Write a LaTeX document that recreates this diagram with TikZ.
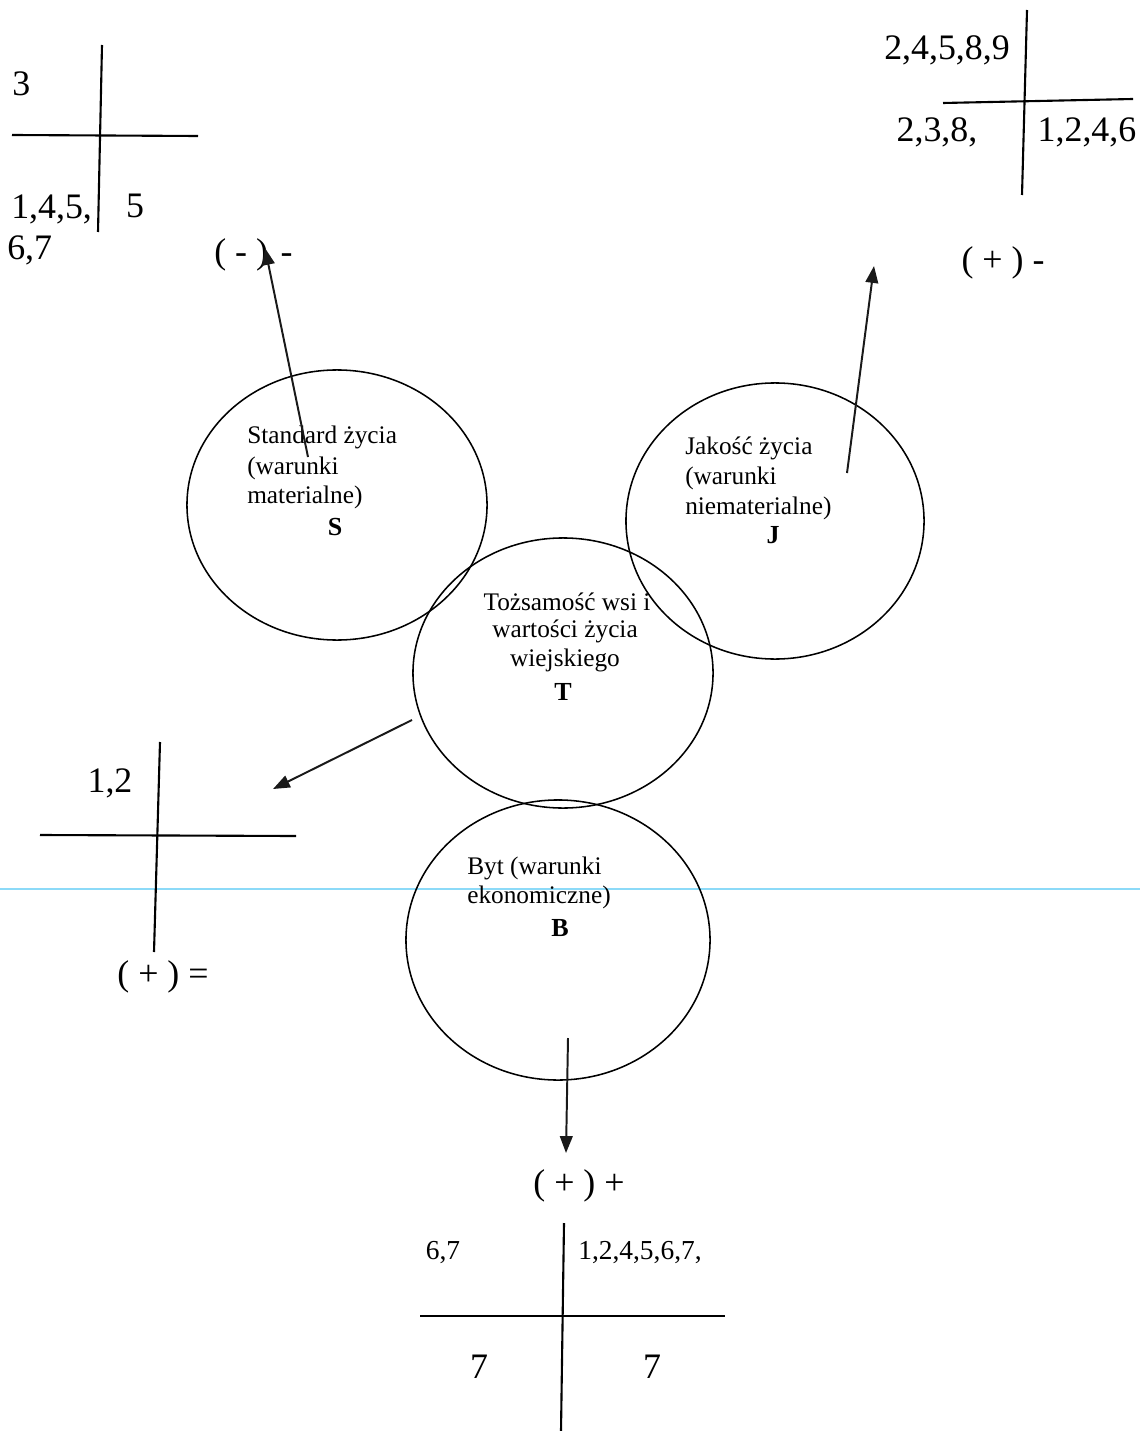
\documentclass[tikz,border=0pt]{standalone}
\usepackage{fontspec}
\setmainfont{Liberation Serif}
\usetikzlibrary{shapes.geometric,arrows.meta}
\begin{document}
\begin{tikzpicture}[x=0.025cm,y=-0.025cm,
 circ/.style={draw, ellipse, line width=1.1pt, inner sep=0pt},
 ln/.style={line width=1.5pt},
 arr/.style={line width=1.4pt, -{Triangle[length=12pt,width=9pt]}, draw=black!90, fill=black!75},
 big/.style={font=\fontsize{25.5}{30}\selectfont, inner sep=0pt},
 mid/.style={font=\fontsize{19.5}{23}\selectfont, inner sep=0pt},
 txt/.style={font=\fontsize{18}{22}\selectfont, inner sep=0pt},
 lbl/.style={font=\fontsize{18.5}{22}\selectfont\bfseries, inner sep=0pt},
]
\useasboundingbox (0,0) rectangle (1140,1431);

% scan line
\draw[cyan!45, line width=1pt] (0,889) -- (1140,889);

% circles
\node[circ, minimum width=7.5cm, minimum height=6.75cm] (S) at (337,505) {};
\node[circ, minimum width=7.45cm, minimum height=6.9cm] (J) at (775,521) {};
\node[circ, minimum width=7.5cm, minimum height=6.75cm] (T) at (563,673) {};
\node[circ, minimum width=7.6cm, minimum height=7cm] (B) at (558,940) {};

% circle texts
\node[txt, anchor=west] (s1) at (247,437) {Standard życia};
\node[txt, anchor=west] (s2) at (247,468) {(warunki};
\node[txt, anchor=west] (s3) at (247,497) {materialne)};
\node[lbl] (s4) at (335,527) {S};

\node[txt, anchor=west] (j1) at (685,448) {Jakość życia};
\node[txt, anchor=west] (j2) at (685,478) {(warunki};
\node[txt, anchor=west] (j3) at (685,508) {niematerialne)};
\node[lbl] (j4) at (773,535) {J};

\node[txt] (t1) at (567,602) {Tożsamość wsi i};
\node[txt] (t2) at (565,631) {wartości życia};
\node[txt] (t3) at (565,660) {wiejskiego};
\node[lbl] (t4) at (563,692) {T};

\node[txt, anchor=west] (b1) at (467,868) {Byt (warunki};
\node[txt, anchor=west] (b2) at (467,897) {ekonomiczne)};
\node[lbl] (b3) at (560,928) {B};

% top-left cross
\draw[ln] (102,45) -- (98,232);
\draw[ln] (12,135) -- (198,136);
\node[big, anchor=west] (q1) at (12,84) {3};
\node[big, anchor=west] (q2) at (11,209) {1,4,5,};
\node[big] (q3) at (135,206) {5};
\node[big, anchor=west] (q4) at (7,250) {6,7};
\node[big, anchor=west] (q5) at (214,255) {( - )\kern0.35em-};

% top-right cross
\draw[ln] (1027,10) -- (1022,195);
\draw[ln] (943,103) -- (1133,99);
\node[big] (r1) at (947,50) {2,4,5,8,9};
\node[big] (r2) at (937,132) {2,3,8,};
\node[big] (r3) at (1087,132) {1,2,4,6};
\node[big] (r4) at (1003,263) {( + ) -};

% left cross
\draw[ln] (160,742) -- (154,952);
\draw[ln] (40,835) -- (296,836);
\node[big] (l1) at (110,783) {1,2};
\node[big] (l2) at (163,977) {( + ) =};

% bottom cross
\node[big] (p1) at (579,1186) {( + ) +};
\draw[ln] (564,1223) -- (561,1431);
\draw[ln] (420,1316) -- (725,1316);
\node[mid] (p2) at (443,1253) {6,7};
\node[mid, anchor=west] (p3) at (578,1253) {1,2,4,5,6,7,};
\node[big] (p4) at (479,1367) {7};
\node[big] (p5) at (652,1367) {7};

% arrows
\coordinate (sa) at (308,457); \coordinate (sb) at (265,248);
\coordinate (ja) at (847,473); \coordinate (jb) at (874,266);
\coordinate (ta) at (412,720); \coordinate (tb) at (273,789);
\coordinate (ba) at (568,1038); \coordinate (bb) at (566,1153);
\draw[arr] (sa) -- (sb);
\draw[arr] (ja) -- (jb);
\draw[arr] (ta) -- (tb);
\draw[arr] (ba) -- (bb);
\end{tikzpicture}
\end{document}
